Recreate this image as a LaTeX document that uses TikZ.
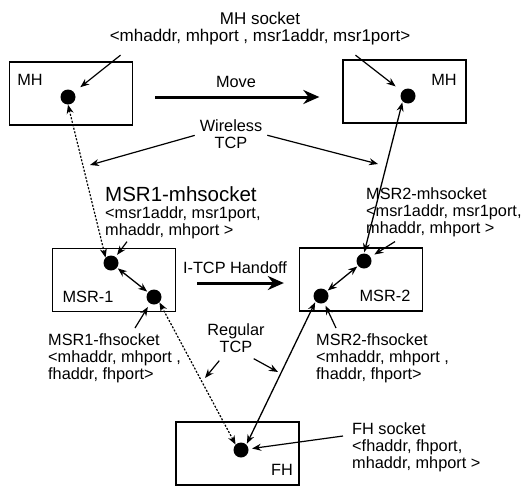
\documentclass[tikz,border=0pt]{standalone}
\usepackage{fontspec}
\setmainfont{Liberation Sans}
\usetikzlibrary{positioning}
\usetikzlibrary{arrows.meta}

\begin{document}
\begin{tikzpicture}[
                x=1pt, y=-1pt,
                >={Stealth[length=9pt, width=7pt]},
                every node/.style={font=\fontsize{16.3}{17}\selectfont, inner sep=0pt},
                % Define styles for hosts, sockets and links
                host/.style={rectangle, draw=black, line width=1.3pt, minimum width=123pt, minimum height=63pt},
                sock/.style={circle, fill=black, minimum size=15pt},
                tag/.style={align=left, anchor=north west},
                link/.style={<->, line width=1.3pt, shorten <=1pt, shorten >=1pt},
                oldlink/.style={<->, line width=1.2pt, dash pattern=on 2pt off 1.6pt},
                pointer/.style={->, line width=1.2pt},
                bigmove/.style={-{Stealth[length=16pt, width=14pt]}, line width=3pt}
            ]
                \useasboundingbox (0,0) rectangle (521,487);

                % Define hosts
                \node[host] (mh1) at (71,93.5) {};
                \node[host] (mh2) at (404.5,91.5) {};
                \node[host] (msr1) at (114,280) {};
                \node[host] (msr2) at (361,279.5) {};
                \node[host] (fh) at (237.5,453.5) {};

                \node (mh1lab) at (30,80) {MH};
                \node (mh2lab) at (444,80) {MH};
                \node (msr1lab) at (88,297) {MSR-1};
                \node (msr2lab) at (385,296) {MSR-2};
                \node (fhlab) at (282,470) {FH};

                % Define sockets
                \node[sock] (d1) at (68,97) {};
                \node[sock] (d2) at (408,96) {};
                \node[sock] (m1a) at (111,263) {};
                \node[sock] (m1b) at (154,297) {};
                \node[sock] (m2a) at (364,261) {};
                \node[sock] (m2b) at (321,296) {};
                \node[sock] (f) at (241,450) {};

                % Socket labels
                \node[align=center, font=\fontsize{17}{17}\selectfont] (mhsock) at (260,28.5) {MH socket\\<mhaddr, mhport , msr1addr, msr1port>};
                \node[tag] (m1tag) at (105,186) {{\fontsize{20.5}{17}\selectfont MSR1-mhsocket}\\<msr1addr, msr1port,\\mhaddr, mhport >};
                \node[tag] (m2tag) at (366,187) {MSR2-mhsocket\\<msr1addr, msr1port,\\mhaddr, mhport >};
                \node[tag] (f1tag) at (48,333) {MSR1-fhsocket\\<mhaddr, mhport ,\\fhaddr, fhport>};
                \node[tag] (f2tag) at (316,333) {MSR2-fhsocket\\<mhaddr, mhport ,\\fhaddr, fhport>};
                \node[tag] (fhtag) at (352,422) {FH socket\\<fhaddr, fhport,\\mhaddr, mhport >};

                % Other labels
                \node (move) at (236,82) {Move};
                \node (handoff) at (235,268) {I-TCP Handoff};
                \node[align=center] (wtcp) at (231,134) {Wireless\\TCP};
                \node[align=center] (rtcp) at (236,338) {Regular\\TCP};

                \coordinate (w1) at (90,165);
                \coordinate (w2) at (378,164);
                \coordinate (r1) at (205,378);
                \coordinate (r2) at (278,372);

                % Draw connections
                \draw[oldlink] (m1a.north west) -- (d1.south);
                \draw[link] (m2a.north) -- (d2.south west);
                \draw[link] (m1a) -- (m1b);
                \draw[link] (m2a) -- (m2b);
                \draw[oldlink] (m1b.south east) -- (f.north west);
                \draw[link] (m2b.south west) -- (f.north east);

                \draw[bigmove] ([shift={(22,3.5)}]mh1.east) -- ([shift={(-23,5.5)}]mh2.west);
                \draw[bigmove] ([shift={(21,3)}]msr1.east) -- ([shift={(-15,3.5)}]msr2.west);

                % Pointers from labels
                \draw[pointer, shorten >=8pt] ([shift={(11,10)}]mhsock.south west) -- (d1);
                \draw[pointer, shorten >=8pt] ([shift={(-55,10)}]mhsock.south east) -- (d2);
                \draw[pointer, shorten <=5pt] (wtcp.west) -- (w1);
                \draw[pointer, shorten <=5pt] (wtcp.east) -- (w2);
                \draw[pointer, shorten >=2.5pt] ([shift={(22,3)}]m1tag.south west) -- (m1a);
                \draw[pointer, shorten >=4.5pt] ([shift={(29,5)}]m2tag.south west) -- (m2a);
                \draw[pointer, shorten >=4pt] ([shift={(87,-5)}]f1tag.north west) -- (m1b);
                \draw[pointer, shorten >=3pt] ([shift={(20,-5)}]f2tag.north west) -- (m2b);
                \draw[pointer, shorten >=3.5pt] ([shift={(-9,14)}]fhtag.north west) -- (f);
                \draw[pointer] ([shift={(12,8)}]rtcp.south west) -- (r1);
                \draw[pointer] ([shift={(-11,6)}]rtcp.south east) -- (r2);
            \end{tikzpicture}
\end{document}
